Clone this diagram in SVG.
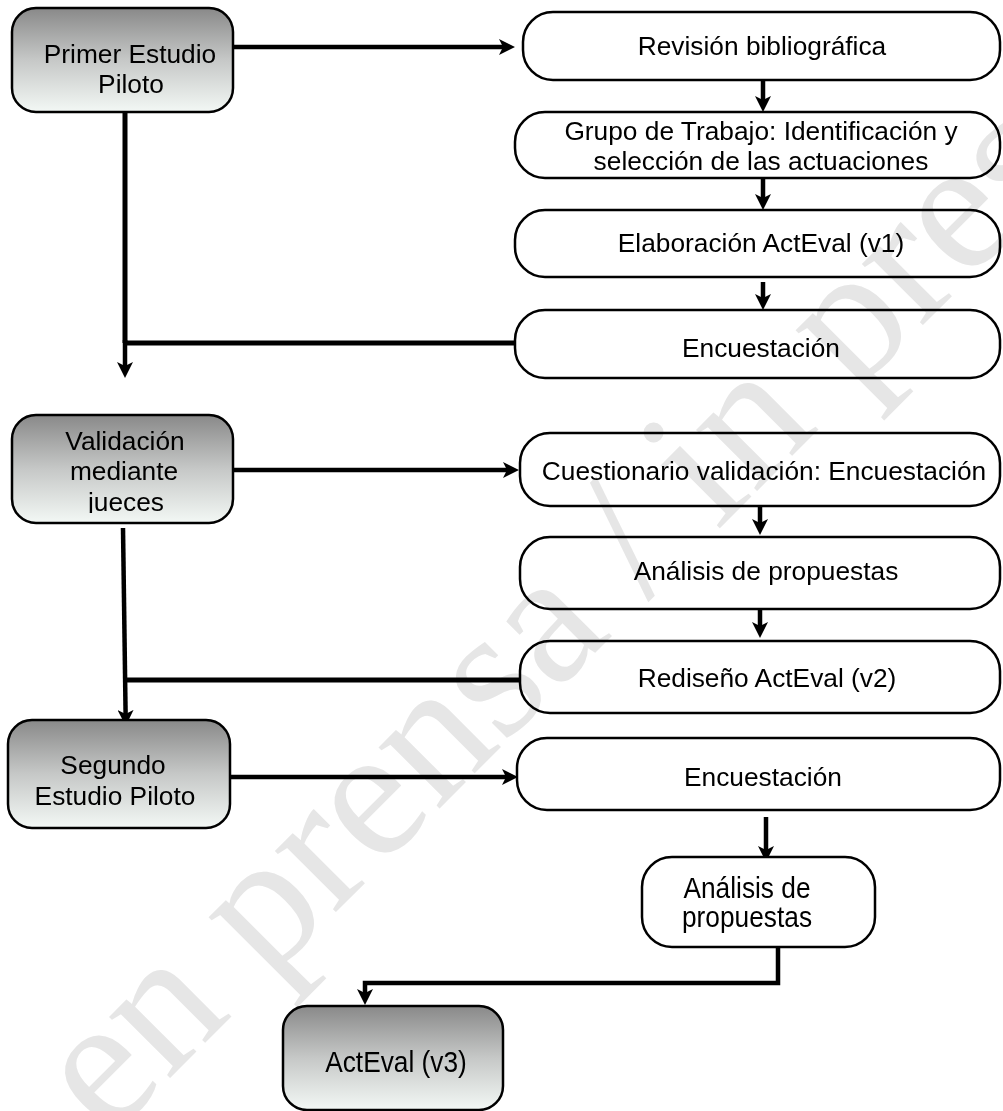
<svg xmlns="http://www.w3.org/2000/svg" width="1003" height="1111" viewBox="0 0 1003 1111">
<defs>
<linearGradient id="gray" x1="0" y1="0" x2="0" y2="1">
<stop offset="0" stop-color="#898989"/>
<stop offset="0.5" stop-color="#c6c8c7"/>
<stop offset="1" stop-color="#f3f8f5"/>
</linearGradient>
<marker id="ah" markerUnits="userSpaceOnUse" markerWidth="16" markerHeight="16" viewBox="0 0 16 16" refX="4" refY="8" orient="auto">
<path d="M0,0 L16,8 L0,16 L4,8 Z" fill="#000"/>
</marker>
<clipPath id="clipV"><rect x="0" y="400" width="260" height="113"/></clipPath>
<style>
.g{fill:url(#gray);stroke:#000;stroke-width:2.5}
.w{fill:#fff;stroke:#000;stroke-width:2.5}
.t{font-family:"Liberation Sans",Arial,sans-serif;font-size:26.3px;fill:#000;text-anchor:middle}
.c{fill:none;stroke:#000;stroke-width:5}
.a{fill:none;stroke:#000;stroke-width:4.5;marker-end:url(#ah)}
.wm{font-family:"Liberation Serif","Times New Roman",serif;font-size:188px;fill:#e6e6e6;mix-blend-mode:multiply}
</style>
</defs>
<rect width="1003" height="1111" fill="#fff"/>

<g id="connectors">
<path class="a" d="M233,47 H503"/>
<path class="c" d="M125,112 V343"/>
<path class="a" d="M125,340 V366"/>
<path class="c" d="M125,343 H515"/>
<path class="a" d="M763,80 V100"/>
<path class="a" d="M763,178 V198"/>
<path class="a" d="M763,282 V298"/>
<path class="a" d="M228,470 H507"/>
<path class="a" d="M123,528 L125.6,714"/>
<path class="c" d="M124.3,680 H520"/>
<path class="a" d="M760,506 V523"/>
<path class="a" d="M760,609 V626"/>
<path class="a" d="M230,777 H506"/>
<path class="a" d="M766,817 V850"/>
<path class="a" d="M778,947 V983 H365 V993"/>
</g>

<g id="n-primer">
<rect class="g" x="12" y="8" width="221" height="104" rx="24"/>
<text class="t" x="130" y="63">Primer Estudio</text>
<text class="t" x="131" y="93">Piloto</text>
</g>
<g id="n-validacion">
<rect class="g" x="12" y="415" width="221" height="108" rx="24"/>
<text class="t" x="125" y="450">Validación</text>
<text class="t" x="124" y="480">mediante</text>
<text class="t" x="126" y="511" clip-path="url(#clipV)">jueces</text>
</g>
<g id="n-segundo">
<rect class="g" x="8" y="720" width="222" height="108" rx="24"/>
<text class="t" x="113" y="774">Segundo</text>
<text class="t" x="115" y="805">Estudio Piloto</text>
</g>
<g id="n-acteval3">
<rect class="g" x="283" y="1006" width="220" height="104" rx="24"/>
<text class="t" x="396" y="1072" transform="translate(0,-107) scale(1,1.1)">ActEval (v3)</text>
</g>

<g id="n-revision">
<rect class="w" x="523" y="12" width="477" height="68" rx="30"/>
<text class="t" x="762" y="55">Revisión bibliográfica</text>
</g>
<g id="n-grupo">
<rect class="w" x="515" y="112" width="485" height="66" rx="30"/>
<text class="t" x="761" y="140">Grupo de Trabajo: Identificación y</text>
<text class="t" x="761" y="170">selección de las actuaciones</text>
</g>
<g id="n-elaboracion">
<rect class="w" x="515" y="210" width="485" height="67" rx="30"/>
<text class="t" x="761" y="252">Elaboración ActEval (v1)</text>
</g>
<g id="n-encuestacion1">
<rect class="w" x="515" y="310" width="485" height="68" rx="30"/>
<text class="t" x="761" y="357">Encuestación</text>
</g>
<g id="n-cuestionario">
<rect class="w" x="520" y="433" width="480" height="73" rx="30"/>
<text class="t" x="764" y="480">Cuestionario validación: Encuestación</text>
</g>
<g id="n-analisis1">
<rect class="w" x="520" y="537" width="480" height="72" rx="30"/>
<text class="t" x="766" y="580">Análisis de propuestas</text>
</g>
<g id="n-rediseno">
<rect class="w" x="520" y="641" width="480" height="72" rx="30"/>
<text class="t" x="767" y="687">Rediseño ActEval (v2)</text>
</g>
<g id="n-encuestacion2">
<rect class="w" x="517" y="738" width="483" height="72" rx="30"/>
<text class="t" x="763" y="786">Encuestación</text>
</g>
<g id="n-analisis2">
<rect class="w" x="642" y="857" width="233" height="90" rx="30"/>
<g transform="translate(0,-80) scale(1,1.09)">
<text class="t" x="747" y="897">Análisis de</text>
<text class="t" x="747" y="924">propuestas</text>
</g>
</g>

<text class="wm" transform="translate(108,1140) rotate(-45)">en prensa / in press</text>
</svg>
